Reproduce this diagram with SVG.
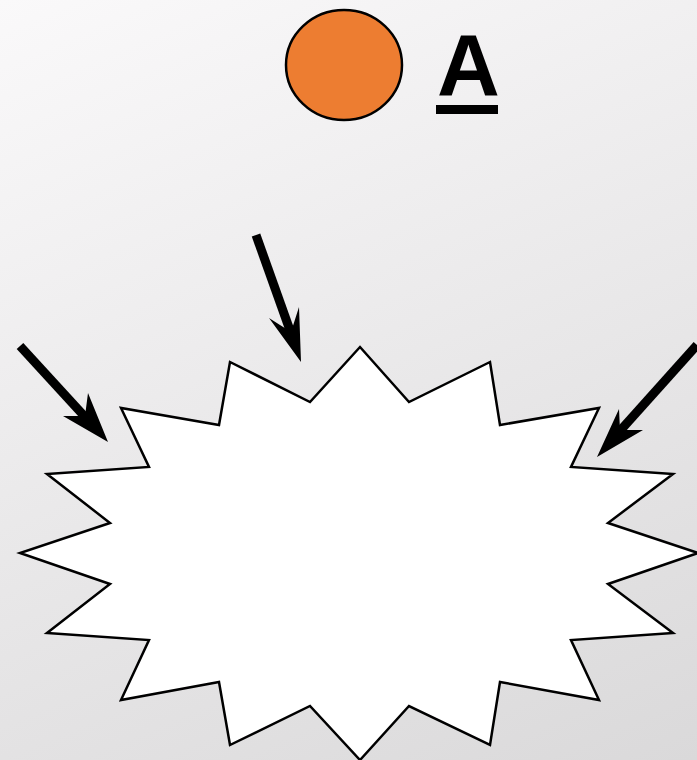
<svg xmlns="http://www.w3.org/2000/svg" width="697" height="760" viewBox="0 0 697 760">
<defs>
<linearGradient id="bg" gradientUnits="userSpaceOnUse" x1="0" y1="0" x2="381" y2="894">
<stop offset="0" stop-color="#faf9fa"/>
<stop offset="1" stop-color="#dad9da"/>
</linearGradient>
<style>
.shaft{stroke:#000;stroke-width:9;fill:none}
.head{fill:#000;stroke:none}
.lbl{font-family:"Liberation Sans",Arial,sans-serif;font-weight:bold;font-size:87px;fill:#000}
</style>
</defs>
<rect x="0" y="0" width="697" height="760" fill="url(#bg)"/>
<g id="star">
<polygon points="360,347 409,402 490,362 500,425 599,408 571,467 673,474 608,523 698,553 608,584 673,633 571,640 599,700 500,682 490,745 409,706 360,760 310,706 230,745 219,682 121,700 149,640 47,633 110,584 20,553 110,523 47,474 149,467 121,408 219,425 230,362 310,402" fill="#fff" stroke="#000" stroke-width="2.5" stroke-linejoin="miter"/>
</g>
<g id="ball">
<ellipse cx="344" cy="65" rx="58" ry="55" fill="#ED7D31" stroke="#000" stroke-width="2.5"/>
</g>
<g id="label">
<text class="lbl" x="437" y="95">A</text>
<rect x="436" y="105" width="62" height="9" fill="#000"/>
</g>
<g id="connectors">
<line class="shaft" x1="256" y1="235" x2="292" y2="336"/>
<polygon class="head" points="301,362 269,318 291,332 299,307"/>
<line class="shaft" x1="20" y1="346" x2="86" y2="418"/>
<polygon class="head" points="108,442 63,416 85,416 88,393"/>
<line class="shaft" x1="697" y1="345" x2="619" y2="432"/>
<polygon class="head" points="597,457 619,409 620,430 643,430"/>
</g>
</svg>
